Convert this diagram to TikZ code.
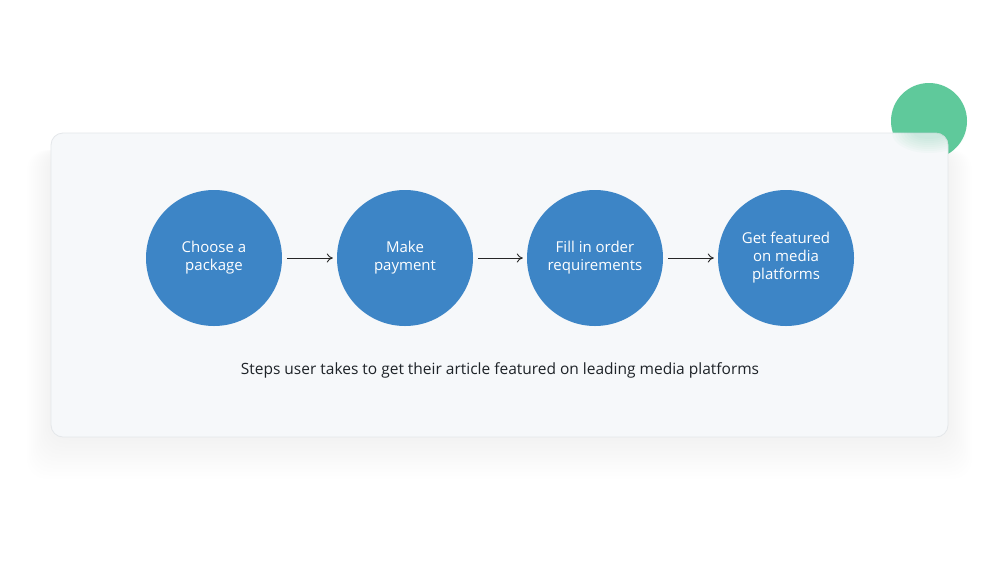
\documentclass[tikz,border=0pt]{standalone}
\usepackage{fontspec}
\setmainfont{Open Sans}
\usetikzlibrary{arrows.meta,calc}
\definecolor{stepblue}{HTML}{3D85C6}
\definecolor{cardfill}{HTML}{F6F8FA}
\definecolor{cardline}{HTML}{E4E7EA}
\definecolor{dotgreen}{HTML}{5FC99B}
\definecolor{captext}{HTML}{1E2328}
\tikzset{
  stepcircle/.style={circle, fill=stepblue, minimum size=136pt, inner sep=0pt,
    text=white, font=\fontsize{15}{18}\selectfont, align=center},
  flowarrow/.style={-{To[length=6pt,width=9pt]}, line width=0.9pt, draw=black!85},
  card/.style={rounded corners=12pt, fill=cardfill, draw=cardline, line width=0.8pt},
}
\begin{document}
\begin{tikzpicture}[x=1pt,y=-1pt]
\useasboundingbox (0,0) rectangle (1000,571);
\fill[white] (0,0) rectangle (1000,571);
% green decoration
\node[circle, fill=dotgreen, minimum size=76pt, inner sep=0pt] (dot) at (929,121) {};
% shadow
\foreach \i in {1,...,12}{
  \fill[black, opacity=0.0035, rounded corners=20pt]
    (51-2*\i,150) rectangle (948+2*\i,437+3.5*\i);
}
% card
\draw[card] (51,133) rectangle (948,437);
% faint green glow inside card near circle
\foreach \i in {1,...,8}{
  \fill[dotgreen, opacity=0.035] (929,133) ellipse ({40-3*\i} and {22-2*\i});
}
% steps
\node[stepcircle] (s1) at (214,258) {Choose a\\package};
\node[stepcircle] (s2) at (405,258) {Make\\payment};
\node[stepcircle] (s3) at (595,258) {Fill in order\\requirements};
\node[stepcircle] (s4) at (786,258) {Get featured\\on media\\platforms};
\draw[flowarrow] ($(s1.east)+(5,0)$) -- ($(s2.west)+(-4,0)$);
\draw[flowarrow] ($(s2.east)+(5,0)$) -- ($(s3.west)+(-4,0)$);
\draw[flowarrow] ($(s3.east)+(5,0)$) -- ($(s4.west)+(-4,0)$);
\node[text=captext, font=\fontsize{15.5}{18}\selectfont] (cap) at (500,370)
  {Steps user takes to get their article featured on leading media platforms};
\end{tikzpicture}
\end{document}
